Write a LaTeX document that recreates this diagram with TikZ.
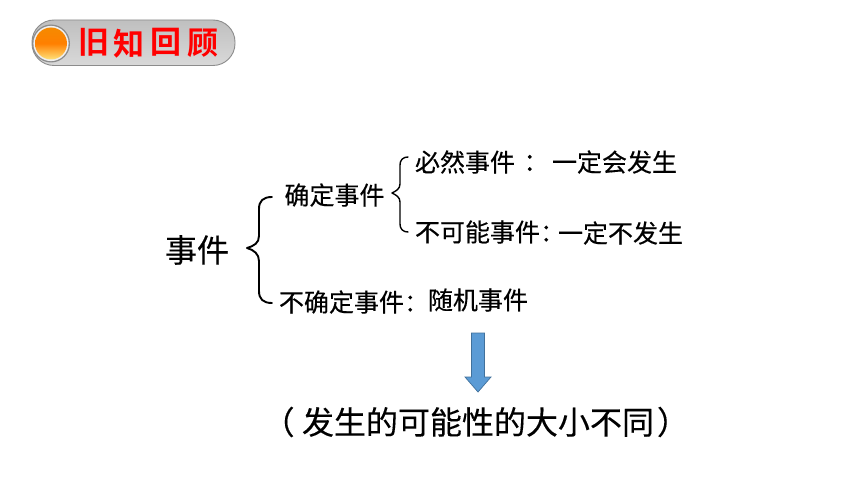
\documentclass[tikz,border=0pt]{standalone}
\usepackage{fontspec}
\newfontfamily\cjk[FakeBold=0.3]{Noto Sans CJK SC}
\newfontfamily\cjkb{Noto Sans CJK SC Bold}
\definecolor{arrowblue}{HTML}{5B9BD5}
\definecolor{arrowedge}{HTML}{41719C}
\definecolor{ballorange}{HTML}{F58A00}
\definecolor{ballyellow}{HTML}{FFE27A}
\tikzset{
  x=1pt,y=-1pt,
  txt/.style={inner sep=0pt,outer sep=0pt,text=black},
  mid/.style={txt,font=\cjk\fontsize{25}{25}\selectfont},
  big/.style={txt,font=\cjk\fontsize{32}{32}\selectfont},
  low/.style={txt,font=\cjk\fontsize{32}{32}\selectfont},
  brace/.style={draw=black,line width=1.9pt,line cap=round,line join=round},
  title/.style={inner sep=0pt,font=\cjkb\fontsize{31}{31}\selectfont,text=red}
}
\begin{document}
\begin{tikzpicture}
\useasboundingbox (0,0) rectangle (860,484);
\fill[white] (0,0) rectangle (860,484);
% title pill
\shade[rounded corners=22pt,top color=black!25,middle color=white,bottom color=black!15,draw=black!45,line width=0.9pt] (32,20) rectangle (235,65.5);
\fill[black!45] (51,43.5) circle (19);
\fill[black!6] (51,43.5) circle (17.6);
\shade[top color=ballorange,bottom color=ballyellow,middle color=orange] (51,43.5) circle (16);
\node[title] (t1) at (93.5,42) {旧};
\node[title] (t2) at (129,44) {知};
\node[title] (t3) at (166,42) {回};
\node[title] (t4) at (202.5,43) {顾};
% text
\node[big] (ev) at (197,250) {事件};
\node[mid] (det) at (334.5,195) {确定事件};
\node[mid,anchor=west] (sure) at (415,162) {必然事件};
\node[mid] (c1) at (536,163) {：};
\node[mid,anchor=west] (sured) at (552,162) {一定会发生};
\node[mid,anchor=west] (imp) at (415,232) {不可能事件：};
\node[mid,anchor=west] (impd) at (558,233) {一定不发生};
\node[mid,anchor=west] (und) at (279,302) {不确定事件：};
\node[mid,anchor=west] (rand) at (428,300) {随机事件};
\node[low,anchor=west] (note) at (262.6,422) {（\kern7.4pt 发生的可能性的大小不同\kern3pt ）};
% braces
\coordinate (bt) at (272,197);
\coordinate (bm) at (247,248);
\coordinate (bb) at (272,303);
\draw[brace] (bt) .. controls (263,197) and (259,201) .. (259,209)
  -- (259,236) .. controls (259,243) and (254,246) .. (bm)
  .. controls (254,250) and (259,254) .. (259,261)
  -- (259,291) .. controls (259,299) and (263,303) .. (bb);
\coordinate (st) at (408,157);
\coordinate (sm) at (392,193);
\coordinate (sb) at (408,232);
\draw[brace,line width=1.4pt] (st) .. controls (403,157) and (400,160) .. (400,165)
  -- (400,184) .. controls (400,189) and (396,191) .. (sm)
  .. controls (396,195) and (400,197) .. (400,202)
  -- (400,224) .. controls (400,229) and (403,232) .. (sb);
% arrow
\draw[fill=arrowblue,draw=arrowedge,line width=0.7pt,line join=miter]
  (471.5,333) -- (484.5,333) -- (484.5,377) -- (491,377) -- (478,392) -- (465,377) -- (471.5,377) -- cycle;
\end{tikzpicture}
\end{document}
